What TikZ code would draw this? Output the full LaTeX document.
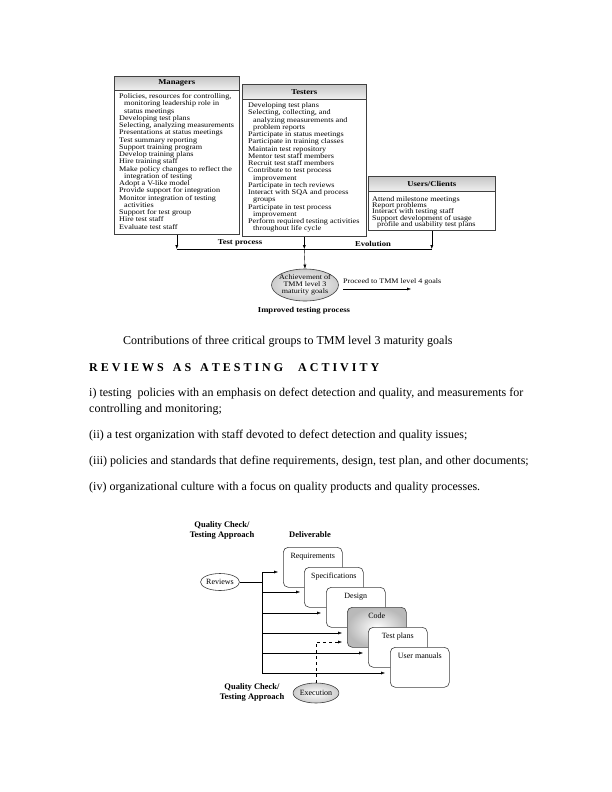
\documentclass[tikz,border=0pt]{standalone}
\usepackage{fontspec}
\setmainfont{Liberation Serif}
\newfontfamily\widefont[FakeStretch=1.15]{Liberation Serif}
\newcommand\mytightlines{\lineskiplimit=-20pt\relax}
\usetikzlibrary{arrows.meta,shapes.geometric,calc}
\begin{document}
\begin{tikzpicture}[x=1pt,y=-1pt,
  arr/.style={-{Latex[length=4pt,width=3pt]}},
  box/.style={draw=black!75, line width=0.6pt, fill=white, anchor=north west, inner sep=0pt},
  hdr/.style={draw=black!75, line width=0.6pt, top color=gray!45, bottom color=gray!12, anchor=north west, inner sep=0pt, font=\widefont\bfseries\fontsize{7.5}{8}\selectfont},
  small/.style={font=\widefont\fontsize{7.1}{7.25}\selectfont\mytightlines, align=left, inner sep=0pt, anchor=north west},
  body/.style={font=\fontsize{12}{14}\selectfont, anchor=west, inner sep=0pt},
  deliv/.style={draw=black!75, line width=0.6pt, fill=white, rounded corners=5pt, minimum width=59pt, minimum height=40pt, anchor=north west, inner sep=0pt},
  dlab/.style={font=\fontsize{8}{9}\selectfont, inner sep=0pt},
  qc/.style={font=\bfseries\fontsize{8.5}{10}\selectfont, align=center, inner sep=0pt},
  oval/.style={ellipse, draw=black!75, line width=0.6pt, inner sep=0pt, shade, inner color=white, outer color=gray!40}
]
\useasboundingbox[fill=white] (0,0) rectangle (612,792);

% ---------------- top diagram ----------------
\node[box, minimum width=125pt, minimum height=158pt] (mgr) at (114,76) {};
\node[hdr, minimum width=125pt, minimum height=14pt] (mgrh) at (114,76) {Managers};
\node[small] (mgrt) at (119,93.5) {Policies, resources for controlling,\\
\hspace*{5pt}monitoring leadership role in\\
\hspace*{5pt}status meetings\\
Developing test plans\\
Selecting, analyzing measurements\\
Presentations at status meetings\\
Test summary reporting\\
Support training program\\
Develop training plans\\
Hire training staff\\
Make policy changes to reflect the\\
\hspace*{5pt}integration of testing\\
Adopt a V-like model\\
Provide support for integration\\
Monitor integration of testing\\
\hspace*{5pt}activities\\
Support for test group\\
Hire test staff\\
Evaluate test staff};

\node[box, minimum width=124pt, minimum height=152pt] (tst) at (242,84) {};
\node[hdr, minimum width=124pt, minimum height=15pt] (tsth) at (242,84) {Testers};
\node[small] (tstt) at (248,102.5) {Developing test plans\\
Selecting, collecting, and\\
\hspace*{5pt}analyzing measurements and\\
\hspace*{5pt}problem reports\\
Participate in status meetings\\
Participate in training classes\\
Maintain test repository\\
Mentor test staff members\\
Recruit test staff members\\
Contribute to test process\\
\hspace*{5pt}improvement\\
Participate in tech reviews\\
Interact with SQA and process\\
\hspace*{5pt}groups\\
Participate in test process\\
\hspace*{5pt}improvement\\
Perform required testing activities\\
\hspace*{5pt}throughout life cycle};

\node[box, minimum width=127pt, minimum height=54pt] (usr) at (368,176) {};
\node[hdr, minimum width=127pt, minimum height=15pt] (usrh) at (368,176) {Users/Clients};
\node[small, font=\widefont\fontsize{7.1}{6.3}\selectfont\mytightlines] (usrt) at (372,196) {Attend milestone meetings\\
Report problems\\
Interact with testing staff\\
Support development of usage\\
\hspace*{5pt}profile and usability test plans};

\coordinate (jm) at (mgr.south |- 0,249);
\coordinate (jt) at (tst.south |- 0,249);
\coordinate (ju) at (usr.south |- 0,249);
\draw[arr] (mgr.south) -- (jm);
\draw[arr] (tst.south) -- (jt);
\draw[arr] (usr.south) -- (ju);
\draw (jm) -- (ju);
\node[font=\widefont\bfseries\fontsize{7.5}{8}\selectfont, anchor=south, inner sep=0pt] (tp) at (240,246.5) {Test process};
\node[font=\widefont\bfseries\fontsize{7.5}{8}\selectfont, anchor=south, inner sep=0pt] (ev) at (373,246.5) {Evolution};

\node[oval, minimum width=67pt, minimum height=32pt] (ach) at (305,285) {};
\node[align=center, inner sep=0pt, font=\widefont\fontsize{7}{7.2}\selectfont] (acht) at (ach.center) {Achievement of\\TMM level 3\\maturity goals};
\draw[arr] (jt) -- (ach.north);
\node[font=\widefont\fontsize{7}{8}\selectfont, anchor=west, inner sep=0pt] (proc) at (343,282) {Proceed to TMM level 4 goals};
\coordinate (pa) at (343,289);
\coordinate (pb) at (411,289);
\draw[arr] (pa) -- (pb);
\node[font=\widefont\bfseries\fontsize{7.5}{8}\selectfont, inner sep=0pt] (imp) at (304,311) {Improved testing process};

% ---------------- text ----------------
\node[body] (cap) at (123,342) {Contributions of three critical groups to TMM level 3 maturity goals};
\node[body, font=\bfseries\fontsize{12}{14}\selectfont] (hd) at (89,368) {R E V I E W S \ \ A S \ \ A T E S T I N G \ \ \ \ A C T I V I T Y};
\node[body] (l1) at (89,394) {i) testing \ policies with an emphasis on defect detection and quality, and measurements for};
\node[body] (l2) at (89,410) {controlling and monitoring;};
\node[body] (l3) at (89,436) {(ii) a test organization with staff devoted to defect detection and quality issues;};
\node[body] (l4) at (89,462) {(iii) policies and standards that define requirements, design, test plan, and other documents;};
\node[body] (l5) at (89,488) {(iv) organizational culture with a focus on quality products and quality processes.};

% ---------------- lower diagram ----------------
\node[qc] (qc1) at (222,530) {Quality Check/\\Testing Approach};
\node[qc] (dlv) at (310,535) {Deliverable};

\node[deliv] (req) at (283,547) {};
\node[dlab, anchor=north] (reqt) at ($(req.north)+(0,6)$) {Requirements};
\node[deliv] (spec) at (304,567) {};
\node[dlab, anchor=north] (spect) at ($(spec.north)+(0,6)$) {Specifications};
\node[deliv] (des) at (326,587) {};
\node[dlab, anchor=north] (dest) at ($(des.north)+(0,6)$) {Design};
\node[deliv, shade, inner color=white, outer color=gray!55] (code) at (347,607) {};
\node[dlab, anchor=north] (codet) at ($(code.north)+(0,6)$) {Code};
\node[deliv] (tpl) at (368,627) {};
\node[dlab, anchor=north] (tplt) at ($(tpl.north)+(0,6)$) {Test plans};
\node[deliv] (um) at (390,647) {};
\node[dlab, anchor=north] (umt) at ($(um.north)+(0,6)$) {User manuals};

\node[oval, minimum width=38pt, minimum height=17pt, shade, inner color=white, outer color=white, font=\fontsize{8}{9}\selectfont] (rev) at (220,582) {Reviews};

\coordinate (s1) at (262,572);
\coordinate (s2) at (262,592);
\coordinate (s3) at (262,613);
\coordinate (s4) at (262,633);
\coordinate (s5) at (262,653);
\coordinate (s6) at (262,673);
\draw (rev.east) -- (rev.east -| s1);
\draw (s1) -- (s6);
\draw[arr, shorten >=5pt] (s1) -- (s1 -| req.west);
\draw[arr, shorten >=4pt] (s2) -- (s2 -| spec.west);
\draw[arr, shorten >=5pt] (s3) -- (s3 -| des.west);
\draw[arr, shorten >=5pt] (s4) -- (s4 -| code.west);
\draw[arr, shorten >=5pt] (s5) -- (s5 -| tpl.west);
\draw[arr, shorten >=5pt] (s6) -- (s6 -| um.west);

\node[oval, minimum width=43pt, minimum height=20pt, font=\fontsize{8}{9}\selectfont] (exe) at (316,693) {Execution};
\coordinate (d1) at (exe.north |- 0,642);
\draw[dashed, arr, shorten >=5pt] (exe.north) -- (d1) -- (d1 -| code.west);
\node[qc] (qc2) at (252,692) {Quality Check/\\Testing Approach};
\end{tikzpicture}
\end{document}
